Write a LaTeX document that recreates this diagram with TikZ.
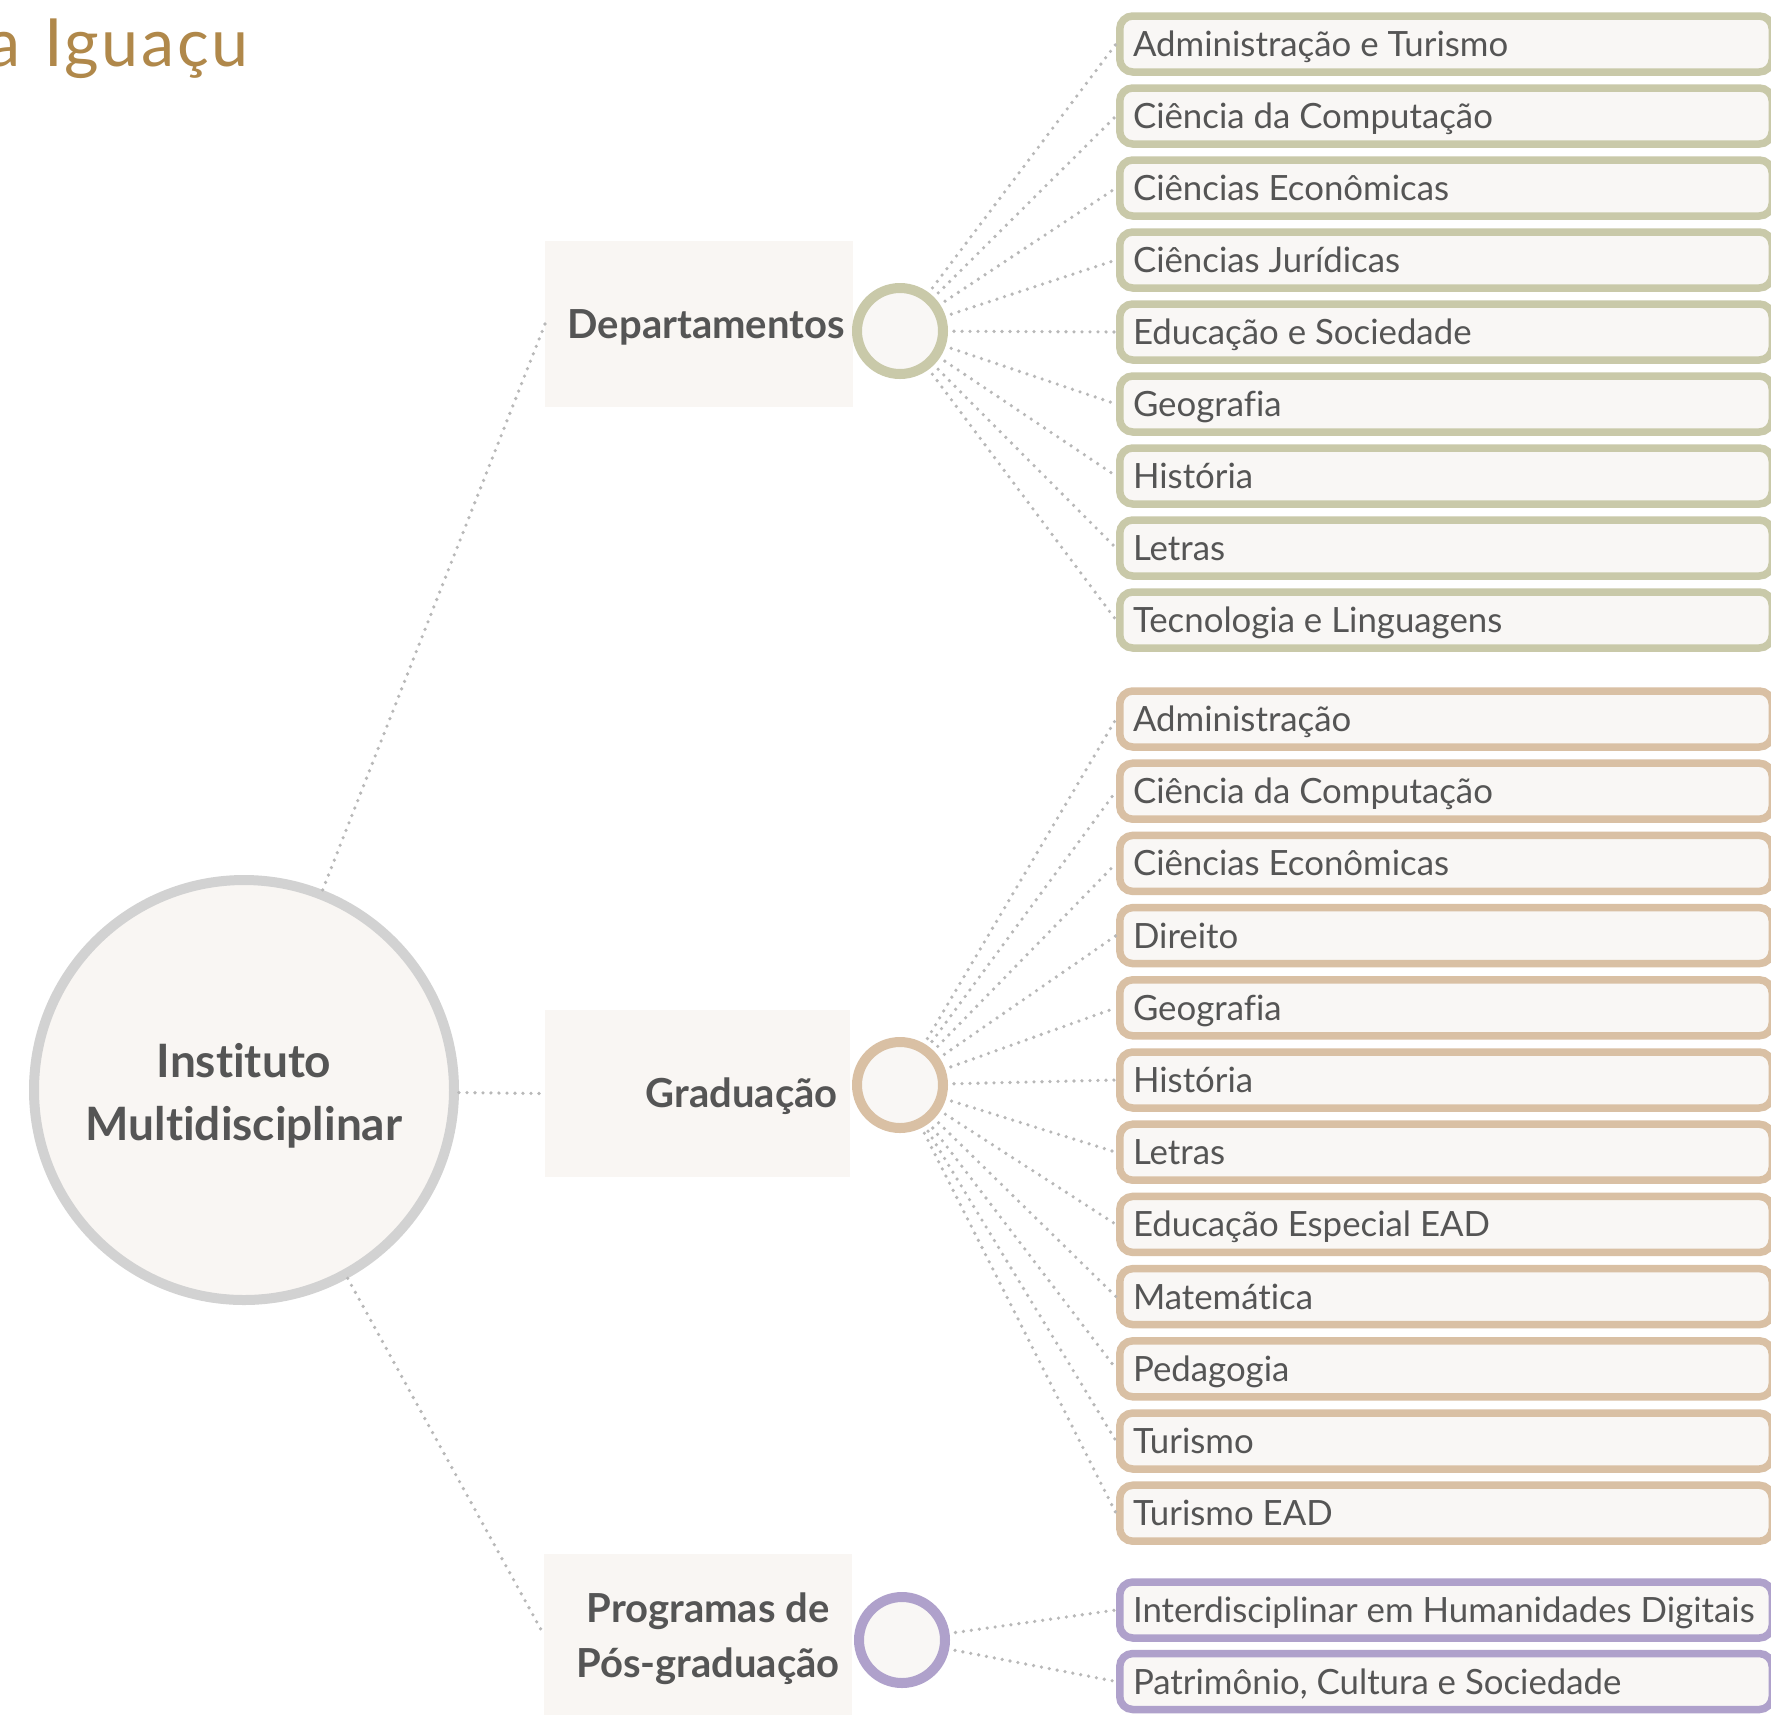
\documentclass[tikz,border=0pt]{standalone}
\usepackage{fontspec}
\setmainfont{Lato}[Ligatures=NoCommon]
\usepackage{graphicx}
\usetikzlibrary{calc}
\definecolor{cGreen}{HTML}{C9C9A9}
\definecolor{cTan}{HTML}{D9C0A4}
\definecolor{cPurple}{HTML}{AFA1CB}
\definecolor{cFill}{HTML}{F9F7F5}
\definecolor{cLab}{HTML}{F9F6F3}
\definecolor{cText}{HTML}{555555}
\definecolor{cDot}{HTML}{B8B8B8}
\definecolor{cRing}{HTML}{D2D2D2}
\definecolor{cGold}{HTML}{B0884A}
\newcommand\itm[1]{\makebox[626pt][l]{#1}}
\begin{document}
\begin{tikzpicture}[x=1pt,y=-1pt,
  dotline/.style={draw=cDot, line width=3.6pt, line cap=round, dash pattern=on 0pt off 8pt},
  itembox/.style={draw=#1, line width=7.5pt, fill=cFill, rounded corners=13pt, anchor=west,
     inner xsep=13.25pt, inner ysep=15.5pt, text height=25pt, text depth=0pt,
     font=\fontsize{34.8}{40}\selectfont, text=cText},
  ring/.style={circle, draw=#1, line width=10pt, fill=cFill, minimum size=86pt, inner sep=0pt, outer sep=11pt},
  labbox/.style={rectangle, fill=cLab, inner sep=0pt, outer sep=0pt},
  labtext/.style={inner sep=0pt, text=cText, font=\fontsize{40}{55}\selectfont\bfseries, text height=28.7pt, text depth=0pt},
]
\useasboundingbox (0,0) rectangle (1771,1714);
\fill[white] (0,0) rectangle (1771,1714);

% title fragment
\node[anchor=base east, inner sep=0pt, text=cGold, font=\fontsize{66.5}{70}\selectfont\addfontfeatures{LetterSpace=4}] (title) at (249,66) {a\hspace{24pt}Iguaçu};

% central circle
\node[circle, draw=cRing, line width=10pt, fill=cLab, minimum size=420pt, inner sep=0pt, outer sep=5pt] (inst) at (244,1090) {};
\node[anchor=base, inner sep=0pt, text=cText, font=\fontsize{46}{63}\selectfont\bfseries] (insttext) at (244,1077)
  {\begin{tabular}[t]{@{}c@{}}Instituto\\Multidisciplinar\end{tabular}};

% label boxes
\node[labbox, minimum width=308pt, minimum height=166pt] (deptbox) at (699,324) {};
\node[labtext, anchor=east] (depttext) at (845,324) {Departamentos};
\node[labbox, minimum width=305pt, minimum height=167pt] (gradbox) at (697.5,1093.5) {};
\node[labtext, anchor=east] (gradtext) at (838,1093) {Graduação};
\node[labbox, minimum width=308pt, minimum height=162pt] (postbox) at (698,1635) {};
\node[anchor=base, inner sep=0pt, text=cText, font=\fontsize{40}{55}\selectfont\bfseries] (posttext) at (708,1622)
  {\begin{tabular}[t]{@{}c@{}}Programas de\\Pós-graduação\end{tabular}};

% rings
\node[ring=cGreen] (deptc) at (900,331) {};
\node[ring=cTan] (gradc) at (900,1085) {};
\node[ring=cPurple] (postc) at (902,1640) {};

% main connectors
\draw[dotline] (inst) -- (deptbox.west);
\draw[dotline] (inst) -- ($(gradbox.west)+(-5,0)$);
\draw[dotline] (inst) -- (postbox.west);

% departamentos
\foreach \t [count=\i] in {Administração e Turismo, Ciência da Computação, Ciências Econômicas, Ciências Jurídicas, Educação e Sociedade, Geografia, História, Letras, Tecnologia e Linguagens}{
  \node[itembox=cGreen] (d\i) at (1116,{44+72*(\i-1)}) {\itm{\t}};
  \draw[dotline] (deptc) -- (d\i.west);
}
% graduacao
\foreach \t [count=\i] in {Administração, Ciência da Computação, Ciências Econômicas, Direito, Geografia, História, Letras, Educação Especial EAD, Matemática, Pedagogia, Turismo, Turismo EAD}{
  \node[itembox=cTan] (g\i) at (1116,{719+72.2*(\i-1)}) {\itm{\t}};
  \draw[dotline] (gradc) -- (g\i.west);
}
% pos-graduacao
\foreach \t [count=\i] in {Interdisciplinar em Humanidades Digitais, {Patrimônio, Cultura e Sociedade}}{
  \node[itembox=cPurple] (p\i) at (1116,{1610+71.5*(\i-1)}) {\itm{\t}};
  \draw[dotline] (postc) -- (p\i.west);
}
\end{tikzpicture}
\end{document}
